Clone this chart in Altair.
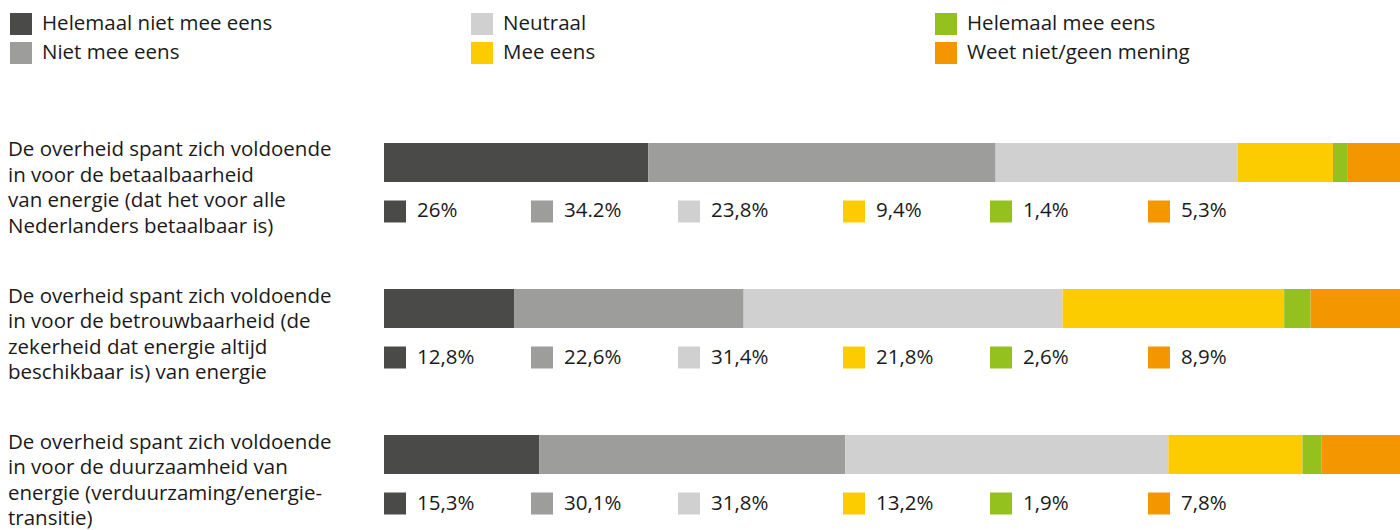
import altair as alt
import pandas as pd

# ---- data ----
answers = ["Helemaal niet mee eens", "Niet mee eens", "Neutraal",
           "Mee eens", "Helemaal mee eens", "Weet niet/geen mening"]
colors = ["#4a4a49", "#9d9d9c", "#d0d0d0", "#fccc00", "#95c11f", "#f39600"]

questions = [
    "De overheid spant zich voldoende\nin voor de betaalbaarheid\nvan energie (dat het voor alle\nNederlanders betaalbaar is)",
    "De overheid spant zich voldoende\nin voor de betrouwbaarheid (de\nzekerheid dat energie altijd\nbeschikbaar is) van energie",
    "De overheid spant zich voldoende\nin voor de duurzaamheid van\nenergie (verduurzaming/energie-\ntransitie)",
]
q1_values = [26.0, 34.2, 23.8, 9.4, 1.4, 5.3]
q2_values = [12.8, 22.6, 31.4, 21.8, 2.6, 8.9]
q3_values = [15.3, 30.1, 31.8, 13.2, 1.9, 7.8]
q1_labels = ["26%", "34.2%", "23,8%", "9,4%", "1,4%", "5,3%"]
q2_labels = ["12,8%", "22,6%", "31,4%", "21,8%", "2,6%", "8,9%"]
q3_labels = ["15,3%", "30,1%", "31,8%", "13,2%", "1,9%", "7,8%"]

# ---- layout (not data) ----
W, H = 1400, 530
FONT = "Open Sans"
FS = 20.5
BAR_X0, BAR_X1 = 384, 1400
BAND_RANGE = [143, 474]
LABEL_COL_X = [384, 531, 678, 843, 990, 1148]
LEGEND_COL_X = [10, 471, 935]
LEGEND_ROW_Y = [24, 53]
SQ = 22

qids = ["q1", "q2", "q3"]
all_values = [q1_values, q2_values, q3_values]
all_labels = [q1_labels, q2_labels, q3_labels]

rows = []
for qi, (vals, labs) in enumerate(zip(all_values, all_labels)):
    for k, (a, v, l) in enumerate(zip(answers, vals, labs)):
        rows.append({"qid": qids[qi], "answer": a, "pct": v, "label": l, "k": k,
                     "sqx": LABEL_COL_X[k] + SQ / 2, "tx": LABEL_COL_X[k] + 33})
df = pd.DataFrame(rows)

df_q = pd.DataFrame({"qid": qids, "text": questions, "tx": [8] * 3})

leg_rows = []
for k, a in enumerate(answers):
    col, row = divmod(k, 2)
    leg_rows.append({"answer": a, "k": k,
                     "sqx": LEGEND_COL_X[col] + SQ / 2,
                     "tx": LEGEND_COL_X[col] + 32,
                     "ly": LEGEND_ROW_Y[row]})
df_leg = pd.DataFrame(leg_rows)

color = alt.Color("answer:N", scale=alt.Scale(domain=answers, range=colors), legend=None)
y_band = alt.Y("qid:N", scale=alt.Scale(type="band", domain=qids, range=BAND_RANGE,
                                         paddingInner=0.733, paddingOuter=0), axis=None)
x_px = lambda f: alt.X(f, type="quantitative", scale=alt.Scale(domain=[0, W], range=[0, W]), axis=None)
y_px = alt.Y("ly:Q", scale=alt.Scale(domain=[0, H], range=[0, H]), axis=None)

bars = alt.Chart(df).mark_bar().encode(
    x=alt.X("pct:Q", stack="zero",
            scale=alt.Scale(domain=[0, 100], range=[BAR_X0, BAR_X1]), axis=None),
    y=y_band,
    color=color,
    order=alt.Order("k:Q"),
)

qtext = alt.Chart(df_q).mark_text(
    align="left", baseline="top", font=FONT, fontSize=FS, lineHeight=25.5,
    lineBreak="\n", color="#1a1a1a", yOffset=-22,
).encode(x=x_px("tx"), y=y_band, text="text:N")

lab_sq = alt.Chart(df).mark_square(size=SQ * SQ, opacity=1, yOffset=49).encode(
    x=x_px("sqx"), y=y_band, color=color)

lab_tx = alt.Chart(df).mark_text(
    align="left", baseline="middle", font=FONT, fontSize=FS, color="#1a1a1a", yOffset=49,
).encode(x=x_px("tx"), y=y_band, text="label:N")

leg_sq = alt.Chart(df_leg).mark_square(size=SQ * SQ, opacity=1).encode(
    x=x_px("sqx"), y=y_px, color=color)

leg_tx = alt.Chart(df_leg).mark_text(
    align="left", baseline="middle", font=FONT, fontSize=FS, color="#1a1a1a",
).encode(x=x_px("tx"), y=y_px, text="answer:N")

chart = alt.layer(bars, qtext, lab_sq, lab_tx, leg_sq, leg_tx).resolve_scale(
    x="independent", y="independent"
).properties(
    width=W, height=H, autosize="none", padding=0,
).configure_view(stroke=None)

chart.save("out.html", embed_options={"renderer": "svg", "actions": False})
